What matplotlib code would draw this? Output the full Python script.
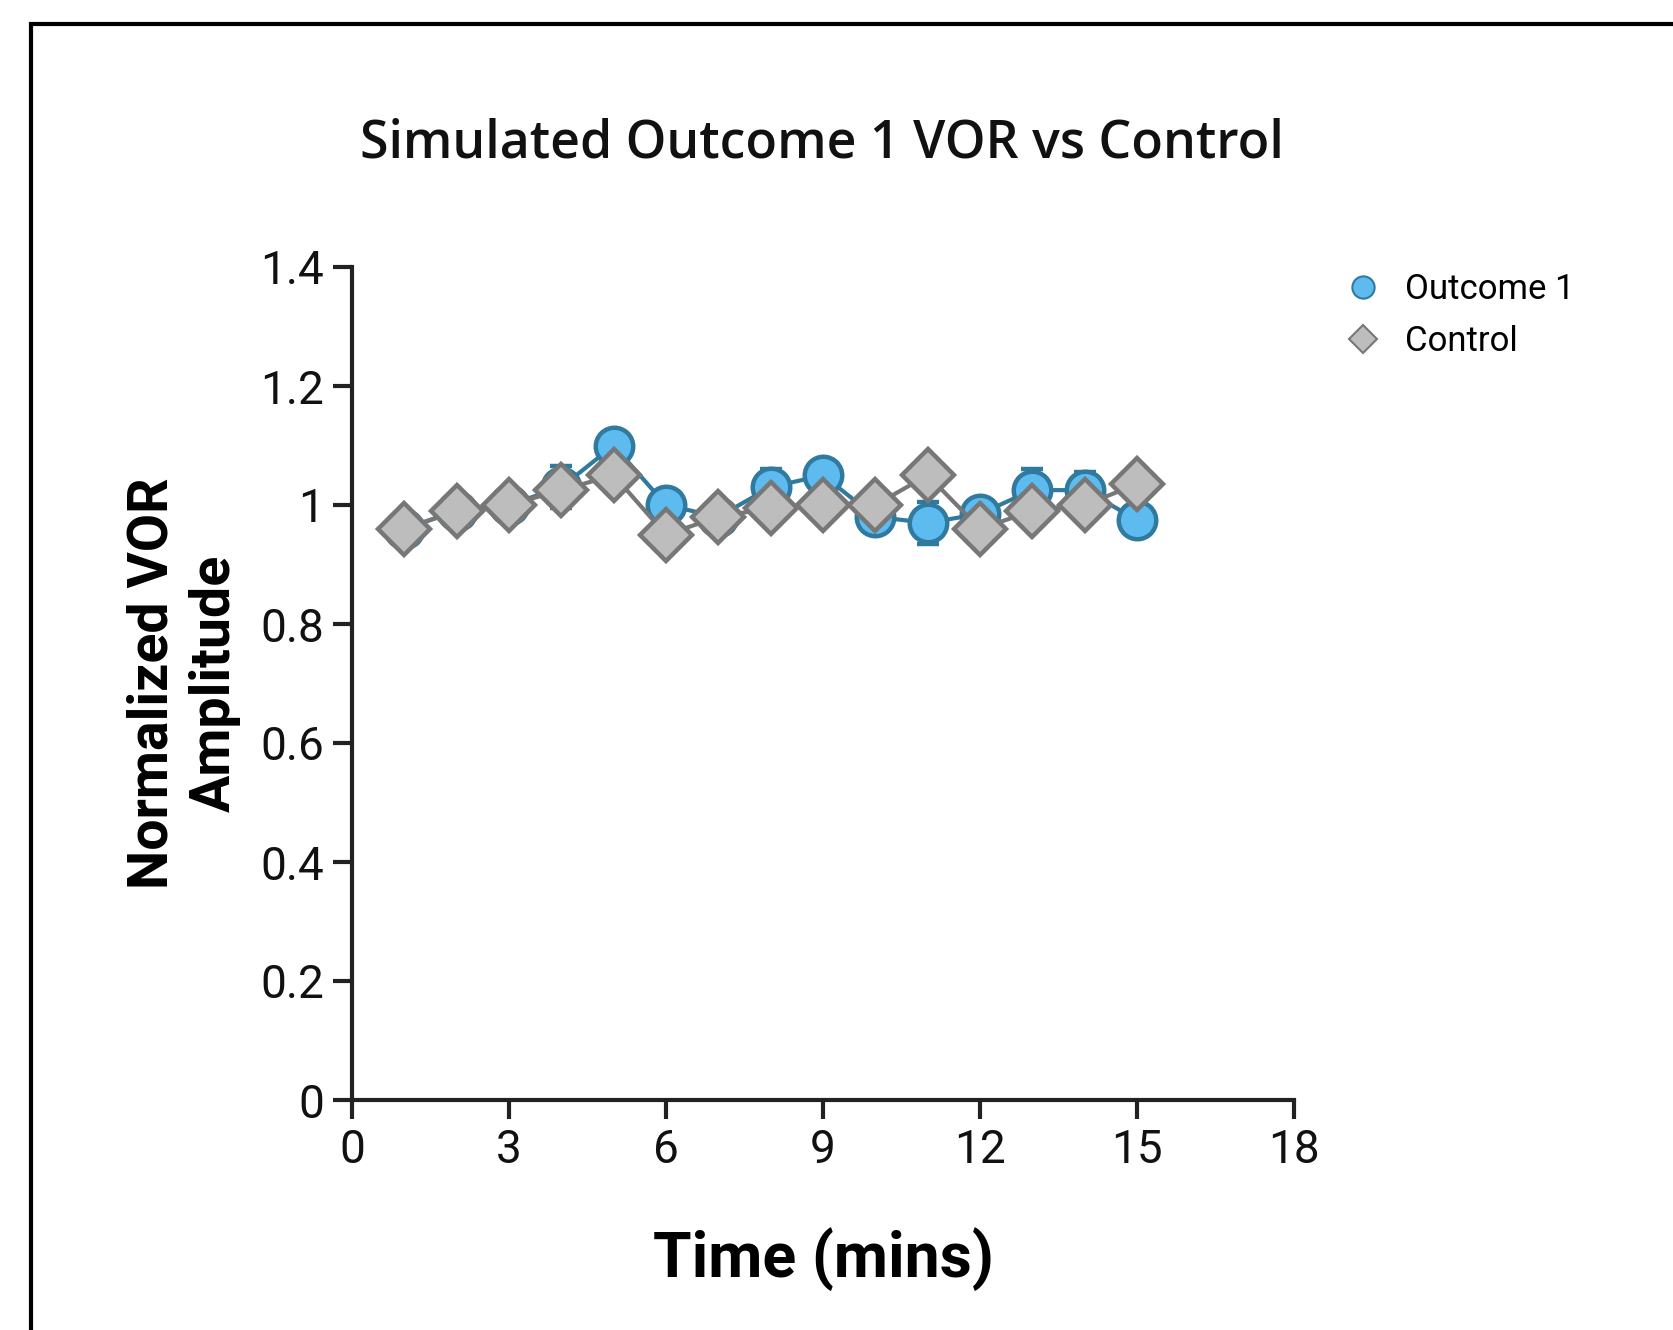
import numpy as np
import matplotlib
matplotlib.use("Agg")
import matplotlib.pyplot as plt
from matplotlib.lines import Line2D
from matplotlib.patches import Rectangle

# data
time_min = [1, 2, 3, 4, 5, 6, 7, 8, 9, 10, 11, 12, 13, 14, 15]
outcome1 = [0.96, 0.99, 1.00, 1.03, 1.10, 1.00, 0.98, 1.03, 1.05, 0.98, 0.97, 0.985, 1.025, 1.025, 0.975]
outcome1_sem = [0.01, 0.01, 0.01, 0.035, 0.01, 0.01, 0.01, 0.03, 0.01, 0.02, 0.035, 0.02, 0.035, 0.03, 0.01]
control = [0.96, 0.99, 1.00, 1.025, 1.05, 0.95, 0.98, 0.995, 1.0, 1.0, 1.05, 0.96, 0.99, 1.0, 1.035]
control_sem = [0.01, 0.01, 0.01, 0.01, 0.01, 0.01, 0.01, 0.01, 0.01, 0.01, 0.01, 0.01, 0.01, 0.01, 0.01]

x_ticks = [0, 3, 6, 9, 12, 15, 18]
y_ticks = [0, 0.2, 0.4, 0.6, 0.8, 1.0, 1.2, 1.4]
y_tick_labels = ["0", "0.2", "0.4", "0.6", "0.8", "1", "1.2", "1.4"]

blue_fill = "#5DBBF0"
blue_edge = "#2F7A9E"
grey_fill = "#BDBDBD"
grey_edge = "#777777"
axis_col = "#222222"

W, H = 1674, 1330
fig = plt.figure(figsize=(W / 100, H / 100), dpi=100)
fig.patch.set_facecolor("white")

# frame of the original screenshot (only left and top edges visible)
fig.add_artist(Rectangle((31 / W, -0.5), 2.0, 1.5 - 24 / H, transform=fig.transFigure,
                         fill=False, edgecolor="black", linewidth=3.0, clip_on=False))

ax = fig.add_axes([352 / W, 1 - 1100 / H, (1294 - 352) / W, (1100 - 267) / H])

ax.errorbar(time_min, outcome1, yerr=outcome1_sem, color=blue_edge, linewidth=3,
            marker="o", markersize=27, markerfacecolor=blue_fill, markeredgecolor=blue_edge,
            markeredgewidth=3.2, ecolor=blue_edge, elinewidth=2.8, capsize=8, capthick=2.8,
            zorder=3)
ax.errorbar(time_min, control, yerr=control_sem, color=grey_edge, linewidth=3,
            marker="D", markersize=26, markerfacecolor=grey_fill, markeredgecolor=grey_edge,
            markeredgewidth=3.2, ecolor=grey_edge, elinewidth=2.8, capsize=8, capthick=2.8,
            zorder=4)

ax.set_xlim(0, 18)
ax.set_ylim(0, 1.4)
ax.set_xticks(x_ticks)
ax.set_yticks(y_ticks)
ax.set_yticklabels(y_tick_labels)
for side in ["top", "right"]:
    ax.spines[side].set_visible(False)
for side in ["left", "bottom"]:
    ax.spines[side].set_linewidth(3)
    ax.spines[side].set_color(axis_col)
ax.tick_params(axis="both", length=14, width=3, color=axis_col, labelsize=33,
               labelcolor="#111111", pad=6)
for lab in ax.get_xticklabels() + ax.get_yticklabels():
    lab.set_fontfamily("Roboto")

ax.set_xlabel("Time (mins)", fontsize=45, fontweight="bold", family="Roboto", labelpad=40)
ax.set_ylabel("Normalized VOR\nAmplitude", fontsize=40, fontweight="bold", family="Roboto",
              labelpad=14, linespacing=1.25)

fig.text(822 / W, 1 - 158 / H, "Simulated Outcome 1 VOR vs Control", ha="center",
         va="baseline", fontsize=37.3, family="Open Sans", fontweight="semibold",
         color="#111111")

handles = [
    Line2D([], [], linestyle="none", marker="o", markersize=16, markerfacecolor=blue_fill,
           markeredgecolor=blue_edge, markeredgewidth=1.5),
    Line2D([], [], linestyle="none", marker="D", markersize=14, markerfacecolor=grey_fill,
           markeredgecolor=grey_edge, markeredgewidth=1.5),
]
fig.legend(handles, ["Outcome 1", "Control"], loc="upper left",
           bbox_to_anchor=(1311 / W, 1 - 242 / H), frameon=False,
           prop={"family": "Roboto", "size": 25}, handletextpad=0.6, labelspacing=0.55,
           handlelength=1.2)

fig.savefig("out.png", dpi=100)
